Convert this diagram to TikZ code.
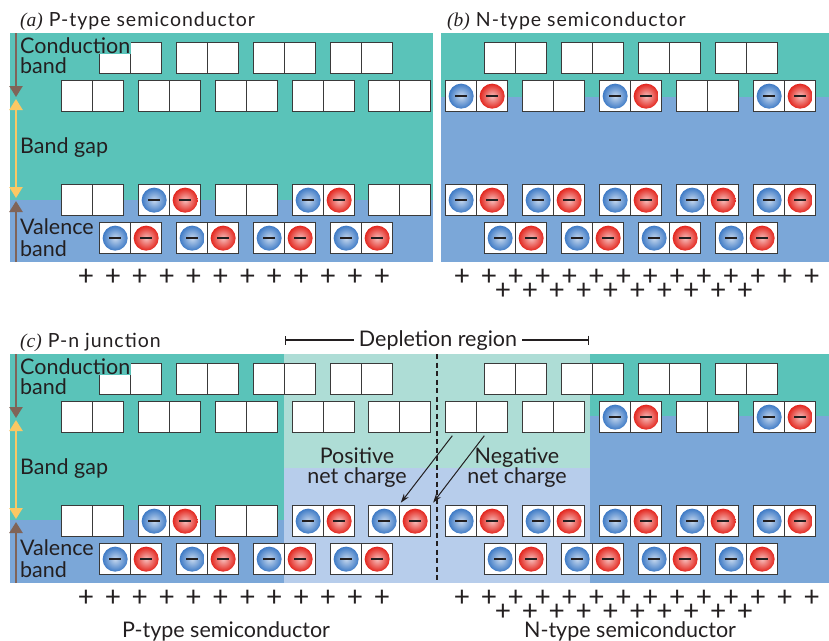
\documentclass[tikz,border=0pt]{standalone}
\usepackage{fontspec}
\setmainfont{Lato}
\newfontfamily\tagfont{Liberation Serif}
\newfontfamily\ttlfont{Lato}[LetterSpace=5]
\usepackage{tikz}
\usetikzlibrary{arrows.meta}
\definecolor{SCInk}{HTML}{231F20}
\definecolor{SCEdge}{HTML}{3A3A3A}
\definecolor{SCTeal}{HTML}{5AC3B9}
\definecolor{SCBlue}{HTML}{7BA7D8}
\definecolor{SCTealLt}{HTML}{AEDDD6}
\definecolor{SCBlueLt}{HTML}{B7CDEB}
\definecolor{SCBrown}{HTML}{806458}
\definecolor{SCGold}{HTML}{FBC864}
\definecolor{SCBallBlue}{HTML}{3F7BC6}
\definecolor{SCBallRed}{HTML}{E3261E}
\tikzset{
  cell/.style={draw=SCEdge,fill=white,line width=1.3pt,minimum size=31pt,inner sep=0pt,anchor=north west},
  ball/.style={circle,inner sep=0pt,minimum size=25pt,text=SCInk},
  lbl/.style={text=SCInk,font=\fontsize{21.5}{21.5}\selectfont,inner sep=0pt,anchor=base west},
  ttl/.style={text=SCInk,font=\ttlfont\fontsize{19.5}{19.5}\selectfont,inner sep=0pt,anchor=base west},
  plus/.style={text=SCInk,font=\fontsize{28}{28}\selectfont,inner sep=0pt,anchor=base},
  bandarr/.style={line width=2.4pt,-{Triangle[width=13pt,length=11pt]}},
}

\begin{document}
\begin{tikzpicture}[x=1pt,y=-1pt]
    \useasboundingbox (0,0) rectangle (829,640);
    % backgrounds
    \fill[SCTeal] (10,33) rectangle (433,200);
    \fill[SCBlue] (10,200) rectangle (433,262);
    \fill[SCTeal] (441,33) rectangle (829,97);
    \fill[SCBlue] (441,97) rectangle (829,262);
    \fill[SCTeal] (10,354) rectangle (284,520);
    \fill[SCBlue] (10,520) rectangle (284,583);
    \fill[SCTealLt] (284,354) rectangle (590,468);
    \fill[SCBlueLt] (284,468) rectangle (590,583);
    \fill[SCTeal] (590,354) rectangle (829,416);
    \fill[SCBlue] (590,416) rectangle (829,583);

    % orbital pairs: panel/x/y/filled
    \foreach \p/\px/\py/\f in {
      a/99/42/0,a/176/42/0,a/253/42/0,a/330/42/0,
      a/61/80/0,a/138/80/0,a/215/80/0,a/292/80/0,a/368/80/0,
      a/61/184/0,a/138/184/1,a/215/184/0,a/292/184/1,a/368/184/0,
      a/99/222/1,a/176/222/1,a/253/222/1,a/330/222/1,
      b/484/42/0,b/561/42/0,b/638/42/0,b/715/42/0,
      b/445/80/1,b/522/80/0,b/599/80/1,b/676/80/0,b/753/80/1,
      b/445/184/1,b/522/184/1,b/599/184/1,b/676/184/1,b/753/184/1,
      b/484/222/1,b/561/222/1,b/638/222/1,b/715/222/1,
      c/99/363/0,c/176/363/0,c/253/363/0,c/330/363/0,c/484/363/0,c/561/363/0,c/638/363/0,c/715/363/0,
      c/61/401/0,c/138/401/0,c/215/401/0,c/292/401/0,c/368/401/0,c/445/401/0,c/522/401/0,c/599/401/1,c/676/401/0,c/753/401/1,
      c/61/505/0,c/138/505/1,c/215/505/0,c/292/505/1,c/368/505/1,c/445/505/1,c/522/505/1,c/599/505/1,c/676/505/1,c/753/505/1,
      c/99/543/1,c/176/543/1,c/253/543/1,c/330/543/1,c/484/543/1,c/561/543/1,c/638/543/1,c/715/543/1} {
      \node[cell] (\p-\py-\px-l) at (\px,\py) {};
      \node[cell] (\p-\py-\px-r) at (\px+31,\py) {};
      \ifnum\f=1
        \node[ball,inner color=SCBallBlue!30!white,outer color=SCBallBlue] (\p-\py-\px-e) at (\p-\py-\px-l) {\rule{12pt}{2.2pt}};
        \node[ball,inner color=SCBallRed!30!white,outer color=SCBallRed] (\p-\py-\px-h) at (\p-\py-\px-r) {\rule{12pt}{2.2pt}};
      \fi
    }

    % titles
    \node[ttl] (tA) at (20,26) {{\tagfont\itshape (a)} P-type semiconductor};
    \node[ttl] (tB) at (447,26) {{\tagfont\itshape (b)} N-type semiconductor};
    \node[ttl] (tC) at (20,347) {{\tagfont\itshape (c)} P-n junction};

    % band labels and arrows
    \foreach \p/\dy in {a/0,c/321} {
      \node[lbl,fill=SCTeal,inner ysep=1pt,inner xsep=1pt] (\p-cond) at (19,53+\dy) {Conduction};
      \node[lbl] (\p-condb) at (20,73+\dy) {band};
      \node[lbl] (\p-gap) at (20,153+\dy) {Band gap};
      \node[lbl] (\p-val) at (20,234+\dy) {Valence};
      \node[lbl] (\p-valb) at (20,256+\dy) {band};
      \coordinate (\p-top) at (16,33+\dy);
      \coordinate (\p-cb) at (16,97+\dy);
      \coordinate (\p-vb) at (16,199+\dy);
      \coordinate (\p-bot) at (16,262+\dy);
      \draw[bandarr,SCBrown] (\p-top) -- (\p-cb);
      \draw[bandarr,{Triangle[width=13pt,length=11pt]}-{Triangle[width=13pt,length=11pt]},SCGold] ([yshift=-2pt]\p-cb) -- ([yshift=1pt]\p-vb);
      \draw[bandarr,SCBrown] (\p-bot) -- ([yshift=-2pt]\p-vb);
    }

    % fixed charges
    \foreach \y in {285,606} {
      \foreach \i in {0,...,11}
        \node[plus] (pp-\y-\i) at (86+26.9*\i,\y) {\smash{+}};
      \foreach \i in {0,...,13}
        \node[plus] (pn-\y-\i) at (462+26.9*\i,\y) {\smash{+}};
      \foreach \i in {0,...,9}
        \node[plus] (pm-\y-\i) at (503+26.9*\i,\y+14.5) {\smash{+}};
    }

    % depletion region
    \draw[SCInk,line width=2.6pt,dash pattern=on 5pt off 3.5pt] (437,354) coordinate (jTop) -- (437,583) coordinate (jBot);
    \node[lbl,anchor=base,inner xsep=5pt] (dep) at (438,346) {Depletion region};
    \coordinate (depL) at (285,340);
    \coordinate (depR) at (589,340);
    \draw[SCInk,line width=1.2pt,{Bar[width=9pt]}-] (depL) -- (dep.west |- depL);
    \draw[SCInk,line width=1.2pt,-{Bar[width=9pt]}] (dep.east |- depR) -- (depR);

    \node[lbl,anchor=base] (pos) at (357,463) {Positive};
    \node[lbl,anchor=base] (posb) at (357,483) {net charge};
    \node[lbl,anchor=base] (neg) at (517,463) {Negative};
    \node[lbl,anchor=base] (negb) at (517,483) {net charge};
    \draw[SCInk,line width=1pt,-{Stealth[length=9pt,width=6pt]},shorten <=3pt,shorten >=3pt] ([xshift=-7pt]c-401-445-l.south) -- (c-505-368-r.north west);
    \draw[SCInk,line width=1pt,-{Stealth[length=9pt,width=6pt]},shorten <=3pt,shorten >=3pt] ([xshift=-6pt]c-401-445-r.south) -- (c-505-368-r.north east);

    \node[lbl,anchor=base] (pType) at (226,637) {P-type semiconductor};
    \node[lbl,anchor=base] (nType) at (630,637) {N-type semiconductor};
  \end{tikzpicture}
\end{document}
